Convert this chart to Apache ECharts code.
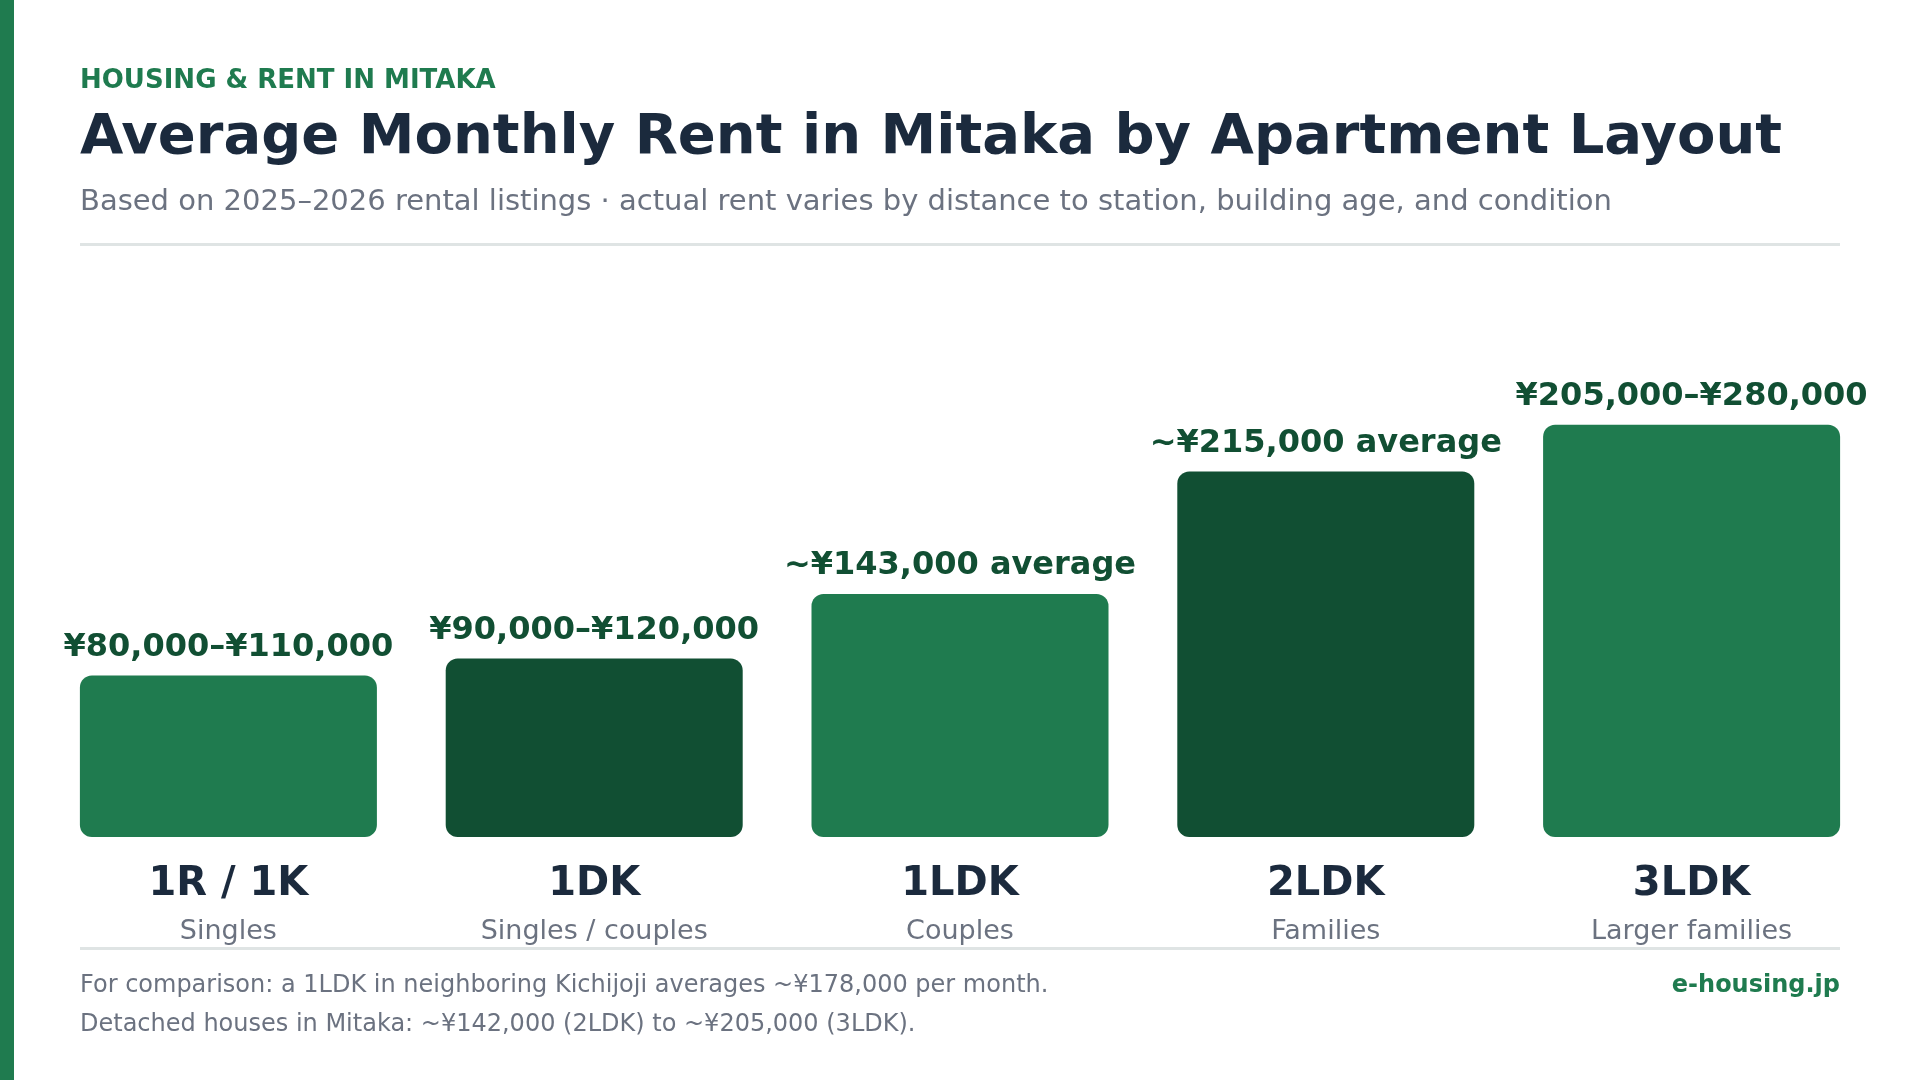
<!DOCTYPE html>
<html>
<head>
<meta charset="utf-8">
<script src="https://cdn.jsdelivr.net/npm/echarts@6/dist/echarts.min.js"></script>
<style>
html,body{margin:0;padding:0;background:#ffffff;}
#chart{width:1920px;height:1080px;}
</style>
</head>
<body>
<div id="chart"></div>
<script>
// ---- Data ----
const layouts = ['1R / 1K', '1DK', '1LDK', '2LDK', '3LDK'];
const audiences = ['Singles', 'Singles / couples', 'Couples', 'Families', 'Larger families'];
const rentValues = [95000, 105000, 143000, 215000, 242500];
const rentLabels = ['¥80,000–¥110,000', '¥90,000–¥120,000', '~¥143,000 average', '~¥215,000 average', '¥205,000–¥280,000'];

const FONT = '"DejaVu Sans", "Noto Sans", sans-serif';
const GREEN = '#1f7b4f';
const DARK = '#114f33';
const NAVY = '#1b2a3d';
const GRAY = '#6b7280';

const chart = echarts.init(document.getElementById('chart'), null, {renderer: 'canvas'});

const option = {
  backgroundColor: '#ffffff',
  animation: false,
  textStyle: {fontFamily: FONT},
  grid: {left: 45.5, right: 45.5, top: 327, bottom: 243, containLabel: false},
  xAxis: {
    type: 'category',
    data: layouts,
    axisLine: {show: false},
    axisTick: {show: false},
    splitLine: {show: false},
    axisLabel: {
      interval: 0,
      margin: 22,
      formatter: function (v, i) { return '{a|' + v + '}\n{b|' + audiences[i] + '}'; },
      rich: {
        a: {fontFamily: FONT, fontSize: 40, fontWeight: 'bold', color: NAVY, lineHeight: 52, align: 'center'},
        b: {fontFamily: FONT, fontSize: 27, color: GRAY, lineHeight: 41, align: 'center'}
      }
    }
  },
  yAxis: {
    type: 'value',
    min: 0,
    max: 300000,
    show: false,
    splitLine: {show: false}
  },
  series: [{
    type: 'bar',
    barWidth: 297,
    data: rentValues.map(function (v, i) {
      return {value: v, itemStyle: {color: i % 2 === 0 ? GREEN : DARK}};
    }),
    itemStyle: {borderRadius: 12},
    label: {
      show: true,
      position: 'top',
      distance: 12,
      fontFamily: FONT,
      fontSize: 32,
      fontWeight: 'bold',
      color: DARK,
      lineHeight: 32,
      formatter: function (p) { return rentLabels[p.dataIndex]; }
    }
  }],
  graphic: [
    {type: 'rect', left: 0, top: 0, shape: {width: 14, height: 1080}, style: {fill: GREEN}},
    {type: 'text', left: 80, top: 68, style: {text: 'HOUSING & RENT IN MITAKA', font: 'bold 26px ' + FONT, fill: GREEN}},
    {type: 'text', left: 80, top: 110, style: {text: 'Average Monthly Rent in Mitaka by Apartment Layout', font: 'bold 56px ' + FONT, fill: NAVY}},
    {type: 'text', left: 80, top: 188, style: {text: 'Based on 2025–2026 rental listings · actual rent varies by distance to station, building age, and condition', font: '29px ' + FONT, fill: GRAY}},
    {type: 'rect', left: 80, top: 243, shape: {width: 1760, height: 3}, style: {fill: '#dfe4e4'}},
    {type: 'rect', left: 80, top: 947, shape: {width: 1760, height: 3}, style: {fill: '#dfe4e4'}},
    {type: 'text', left: 80, top: 974, style: {text: 'For comparison: a 1LDK in neighboring Kichijoji averages ~¥178,000 per month.', font: '24px ' + FONT, fill: GRAY}},
    {type: 'text', left: 80, top: 1013, style: {text: 'Detached houses in Mitaka: ~¥142,000 (2LDK) to ~¥205,000 (3LDK).', font: '24px ' + FONT, fill: GRAY}},
    {type: 'text', right: 80, top: 974, style: {text: 'e-housing.jp', font: 'bold 24px ' + FONT, fill: GREEN}}
  ]
};
chart.setOption(option);
</script>
</body>
</html>
